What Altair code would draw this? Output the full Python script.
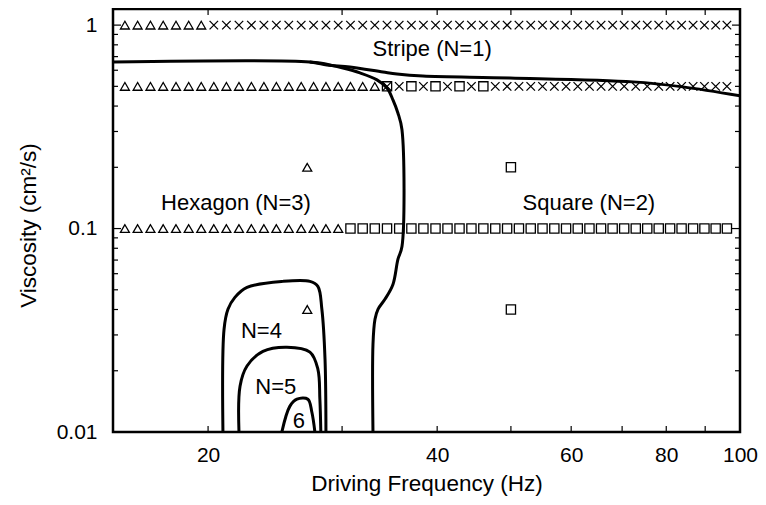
import altair as alt
import pandas as pd

# ---------------- data ----------------
# frequencies (Hz) of the scanned grid points along the three viscosity rows
freq_grid = [15.55, 16.16, 16.80, 17.46, 18.15, 18.86, 19.59, 20.35, 21.14, 21.96,
             22.80, 23.68, 24.59, 25.53, 26.51, 27.52, 28.57, 29.65, 30.77, 31.93,
             33.12, 34.37, 35.66, 37.00, 38.37, 39.80, 41.27, 42.80, 44.37, 46.00,
             47.69, 49.43, 51.23, 53.09, 55.02, 57.02, 59.08, 61.21, 63.41, 65.68,
             68.02, 70.44, 72.95, 75.53, 78.20, 80.94, 83.80, 86.77, 89.80, 92.90,
             96.12]
# viscosity (cm^2/s) of each scanned row
row_visc = [1.0, 0.5, 0.1]
# observed pattern per grid point: H=hexagon(triangle) S=square X=stripe(cross) B=cross+square
row_codes = [
    "HHHHHHH" + "XXXXXXXXXXXXXXXXXXXXXXXXXXXXXXXXXXXXXXXXXXXX",
    "HHHHHHHHHHHHHHHHHHHHH" + "B" + "XSXSXSXS" + "XXXXXXXXXXXXXXXXXXXXX",
    "HHHHHHHHHHHHHHHHHH" + "SSSSSSSSSSSSSSSSSSSSSSSSSSSSSSSSS",
]
# isolated points
extra_freq = [27.0, 27.0, 50.0, 50.0]
extra_visc = [0.2, 0.04, 0.2, 0.04]
extra_code = ["H", "H", "S", "S"]

# boundary curves
stripe_f = [15.0, 27.2, 28.65, 30.72, 33.95, 35.42, 38.31, 49.85, 72.33, 84.1, 100.0]
stripe_v = [0.659, 0.659, 0.637, 0.622, 0.588, 0.575, 0.562, 0.550, 0.526, 0.497, 0.449]
hexsq_f = [27.2, 28.05, 30.08, 31.67, 33.34, 34.37, 34.99, 35.52, 35.96, 35.96,
           35.52, 34.99, 34.15, 33.44, 33.14, 32.94, 32.94]
hexsq_v = [0.659, 0.651, 0.615, 0.582, 0.538, 0.491, 0.429, 0.370, 0.306, 0.0816,
           0.0705, 0.0531, 0.0449, 0.0401, 0.0358, 0.0270, 0.01]
n4_f = [20.92, 20.99, 21.24, 21.69, 22.50, 25.08, 27.22, 27.88, 28.22, 28.49, 28.57]
n4_v = [0.01, 0.0320, 0.0401, 0.0459, 0.0514, 0.0550, 0.0550, 0.0520, 0.0401, 0.0228, 0.01]
n5_f = [21.96, 22.03, 22.50, 23.61, 25.39, 27.22, 27.88, 28.05, 28.13]
n5_v = [0.01, 0.0168, 0.0211, 0.0249, 0.0261, 0.0247, 0.0204, 0.0145, 0.01]
n6_f = [25.0, 25.62, 26.17, 27.05, 27.38, 27.63]
n6_v = [0.01, 0.0134, 0.0145, 0.0145, 0.0125, 0.01]

# region labels
label_text = ["Stripe (N=1)", "Hexagon (N=3)", "Square (N=2)", "N=4", "N=5", "6"]
label_f = [39.4, 21.76, 63.3, 23.5, 24.55, 26.33]
label_v = [0.763, 0.134, 0.134, 0.0313, 0.0166, 0.0113]

# axis ticks
x_tick_vals = [20, 30, 40, 50, 60, 70, 80, 90]
x_label_vals = [20, 40, 60, 80, 100]
y_major_vals = [0.01, 0.1, 1]
y_minor_vals = [0.02, 0.03, 0.04, 0.05, 0.06, 0.07, 0.08, 0.09,
                0.2, 0.3, 0.4, 0.5, 0.6, 0.7, 0.8, 0.9]

# ---------------- build tables ----------------
CROSS = "M-1,-1L1,1M-1,1L1,-1"
shape_of = {"H": ("triangle-up", 80), "S": ("square", 85), "X": (CROSS, 72)}

rows = []
def add_point(f, v, code):
    codes = ["X", "S"] if code == "B" else [code]
    for c in codes:
        shp, sz = shape_of[c]
        rows.append({"f": f, "v": v, "shape": shp, "size": sz})

for visc, codes in zip(row_visc, row_codes):
    for f, c in zip(freq_grid, codes):
        add_point(f, visc, c)
for f, v, c in zip(extra_freq, extra_visc, extra_code):
    add_point(f, v, c)
mdf = pd.DataFrame(rows)

crow = []
for name, fs, vs in [("stripe", stripe_f, stripe_v), ("hexsq", hexsq_f, hexsq_v),
                     ("n4", n4_f, n4_v), ("n5", n5_f, n5_v), ("n6", n6_f, n6_v)]:
    for i, (f, v) in enumerate(zip(fs, vs)):
        crow.append({"curve": name, "ord": i, "f": f, "v": v})
cdf = pd.DataFrame(crow)

tdf = pd.DataFrame({"label": label_text, "f": label_f, "v": label_v})
xt = pd.DataFrame({"f": x_tick_vals})
ymaj = pd.DataFrame({"v": y_major_vals})
ymin = pd.DataFrame({"v": y_minor_vals})

# ---------------- chart ----------------
W, H = 627, 423
FONT = "Liberation Sans"
xs = alt.Scale(type="log", domain=[15, 100], nice=False)
ys = alt.Scale(type="log", domain=[0.01, 1.2], nice=False)

xaxis = alt.Axis(values=x_label_vals, format="d", ticks=False, domain=False, grid=False,
                 labelFontSize=21, labelPadding=12, labelFlush=False, labelOverlap=False,
                 labelColor="black", title="Driving Frequency (Hz)", titleFontSize=22.5,
                 titleFontWeight="normal", titleColor="black", titleY=58,
                 titleBaseline="alphabetic")
yaxis = alt.Axis(values=y_major_vals, format="~g", ticks=False, domain=False, grid=False,
                 labelFontSize=21, labelPadding=16, labelFlush=False, labelOverlap=False,
                 labelColor="black", title="Viscosity (cm²/s)", titleFontSize=22.5,
                 titleFontWeight="normal", titleColor="black", titleX=-85, titleY=216,
                 titleAngle=270, titleAlign="center", titleBaseline="middle")

X = alt.X("f:Q", scale=xs, axis=xaxis)
Y = alt.Y("v:Q", scale=ys, axis=yaxis)

markers = alt.Chart(mdf).mark_point(filled=False, color="black", strokeWidth=1.3,
                                     opacity=1).encode(
    x=X, y=Y,
    shape=alt.Shape("shape:N", scale=None),
    size=alt.Size("size:Q", scale=None),
)

curves = alt.Chart(cdf).mark_line(color="black", strokeWidth=3,
                                  interpolate="catmull-rom", clip=True).encode(
    x=X, y=Y, detail="curve:N", order="ord:Q"
)

texts = alt.Chart(tdf).mark_text(fontSize=22, font=FONT, color="black",
                                 align="center", baseline="middle").encode(
    x=X, y=Y, text="label:N"
)

tick_style = dict(color="black", strokeWidth=1.2)
bottom_ticks = alt.Chart(xt).mark_rule(**tick_style).encode(
    x=X, y=alt.value(H - 6), y2=alt.value(H))
top_ticks = alt.Chart(xt).mark_rule(**tick_style).encode(
    x=X, y=alt.value(0), y2=alt.value(6))
left_major = alt.Chart(ymaj).mark_rule(**tick_style).encode(
    y=Y, x=alt.value(0), x2=alt.value(8))
left_minor = alt.Chart(ymin).mark_rule(**tick_style).encode(
    y=Y, x=alt.value(0), x2=alt.value(5))
right_major = alt.Chart(ymaj).mark_rule(**tick_style).encode(
    y=Y, x=alt.value(W - 8), x2=alt.value(W))
right_minor = alt.Chart(ymin).mark_rule(**tick_style).encode(
    y=Y, x=alt.value(W - 5), x2=alt.value(W))

chart = alt.layer(
    markers, curves, texts,
    bottom_ticks, top_ticks, left_major, left_minor, right_major, right_minor
).properties(
    width=W, height=H,
    autosize=alt.AutoSizeParams(type="none"),
    padding={"left": 105, "top": 1, "right": 18, "bottom": 65},
).configure(font=FONT, background="white").configure_view(
    stroke="black", strokeWidth=2.5
)

chart.save("out.html", embed_options={"renderer": "svg", "actions": False})
